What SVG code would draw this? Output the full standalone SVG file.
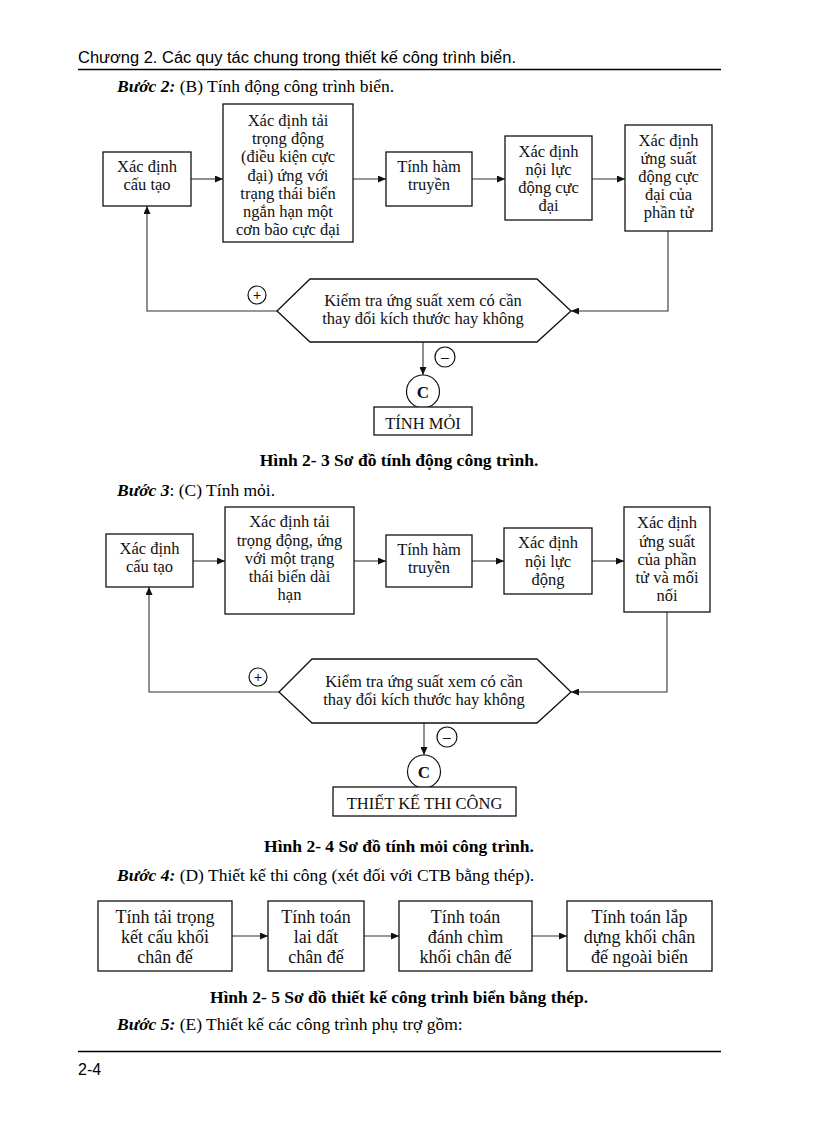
<svg xmlns="http://www.w3.org/2000/svg" width="816" height="1123" viewBox="0 0 816 1123">
<style>
.bg{fill:#ffffff}
.box{fill:#ffffff;stroke:#111;stroke-width:1.3}
.ln{fill:none;stroke:#333;stroke-width:1.1}
.c{fill:none;stroke:#111;stroke-width:1.2}
.t{font-family:"Liberation Serif","Times New Roman",serif;font-size:16.5px;fill:#111;text-anchor:middle}
.tb{font-family:"Liberation Serif","Times New Roman",serif;font-size:18px;fill:#111;text-anchor:middle}
.tc{font-family:"Liberation Serif","Times New Roman",serif;font-size:16.5px;fill:#111;text-anchor:middle}
.body{font-family:"Liberation Serif","Times New Roman",serif;font-size:17.5px;fill:#000}
.cap{font-family:"Liberation Serif","Times New Roman",serif;font-size:17.5px;font-weight:bold;fill:#000;text-anchor:middle}
.hdr{font-family:"Liberation Sans",Arial,sans-serif;font-size:16px;fill:#000}
.sym{font-family:"Liberation Sans",Arial,sans-serif;font-size:14px;fill:#111;text-anchor:middle}
.cc{font-family:"Liberation Serif","Times New Roman",serif;font-size:17px;font-weight:bold;fill:#111;text-anchor:middle}
</style>
<defs>
<marker id="arr" markerUnits="userSpaceOnUse" markerWidth="8" markerHeight="7" refX="8" refY="3.5" orient="auto">
<path d="M0,0 L8,3.5 L0,7 z" fill="#111"/>
</marker>
</defs>
<rect class="bg" x="0" y="0" width="816" height="1123"/>

<g id="page-text">
<text class="hdr" x="78" y="63" textLength="438" lengthAdjust="spacingAndGlyphs">Chương 2. Các quy tác chung trong thiết kế công trình biển.</text>
<line x1="78" y1="69.5" x2="721" y2="69.5" stroke="#000" stroke-width="1.5"/>
<text class="body" x="117" y="92"><tspan font-weight="bold" font-style="italic">Bước 2:</tspan> (B) Tính động công trình biển.</text>
<text class="cap" x="399" y="466">Hình 2- 3 Sơ đồ tính động công trình.</text>
<text class="body" x="117" y="496"><tspan font-weight="bold" font-style="italic">Bước 3</tspan>: (C) Tính mỏi.</text>
<text class="cap" x="399" y="852">Hình 2- 4 Sơ đồ tính mỏi công trình.</text>
<text class="body" x="117" y="881"><tspan font-weight="bold" font-style="italic">Bước 4:</tspan> (D) Thiết kế thi công (xét đối với CTB bằng thép).</text>
<text class="cap" x="399" y="1003">Hình 2- 5 Sơ đồ thiết kế công trình biển bằng thép.</text>
<text class="body" x="117" y="1030"><tspan font-weight="bold" font-style="italic">Bước 5:</tspan> (E) Thiết kế các công trình phụ trợ gồm:</text>
<line x1="78" y1="1051.5" x2="721" y2="1051.5" stroke="#000" stroke-width="1.5"/>
<text class="hdr" x="78" y="1075">2-4</text>
</g>

<g id="connectors">
<!-- diagram 1 -->
<line class="ln" x1="191" y1="179" x2="223" y2="179" marker-end="url(#arr)"/>
<line class="ln" x1="353" y1="179" x2="386" y2="179" marker-end="url(#arr)"/>
<line class="ln" x1="472" y1="179" x2="505" y2="179" marker-end="url(#arr)"/>
<line class="ln" x1="592" y1="179" x2="625" y2="179" marker-end="url(#arr)"/>
<polyline class="ln" points="668,231 668,311 571,311" marker-end="url(#arr)"/>
<polyline class="ln" points="277,311 147,311 147,206" marker-end="url(#arr)"/>
<line class="ln" x1="423" y1="342" x2="423" y2="375" marker-end="url(#arr)"/>
<!-- diagram 2 -->
<line class="ln" x1="193" y1="561" x2="225" y2="561" marker-end="url(#arr)"/>
<line class="ln" x1="354" y1="561" x2="386" y2="561" marker-end="url(#arr)"/>
<line class="ln" x1="472" y1="561" x2="504" y2="561" marker-end="url(#arr)"/>
<line class="ln" x1="592" y1="561" x2="624" y2="561" marker-end="url(#arr)"/>
<polyline class="ln" points="667,612 667,692 571,692" marker-end="url(#arr)"/>
<polyline class="ln" points="279,692 149,692 149,587" marker-end="url(#arr)"/>
<line class="ln" x1="424" y1="723" x2="424" y2="755" marker-end="url(#arr)"/>
<!-- diagram 3 -->
<line class="ln" x1="232" y1="936" x2="268" y2="936" marker-end="url(#arr)"/>
<line class="ln" x1="364" y1="936" x2="399" y2="936" marker-end="url(#arr)"/>
<line class="ln" x1="532" y1="936" x2="567" y2="936" marker-end="url(#arr)"/>
</g>

<!-- Diagram 1 -->
<g id="d1-cautao">
<rect class="box" x="103" y="152" width="88" height="54"/>
<text class="t" x="147" y="172">Xác định</text>
<text class="t" x="147" y="190">cấu tạo</text>
</g>
<g id="d1-taitrong">
<rect class="box" x="223" y="104" width="130" height="138"/>
<text class="t" x="288" y="126">Xác định tải</text>
<text class="t" x="288" y="144">trọng động</text>
<text class="t" x="288" y="162">(điều kiện cực</text>
<text class="t" x="288" y="181">đại) ứng với</text>
<text class="t" x="288" y="199">trạng thái biển</text>
<text class="t" x="288" y="217">ngắn hạn một</text>
<text class="t" x="288" y="235">cơn bão cực đại</text>
</g>
<g id="d1-hamtruyen">
<rect class="box" x="386" y="152" width="86" height="54"/>
<text class="t" x="429" y="172">Tính hàm</text>
<text class="t" x="429" y="190">truyền</text>
</g>
<g id="d1-noiluc">
<rect class="box" x="505" y="136" width="87" height="84"/>
<text class="t" x="548.5" y="157">Xác định</text>
<text class="t" x="548.5" y="175">nội lực</text>
<text class="t" x="548.5" y="193">động cực</text>
<text class="t" x="548.5" y="211">đại</text>
</g>
<g id="d1-ungsuat">
<rect class="box" x="625" y="125" width="87" height="106"/>
<text class="t" x="668.5" y="146">Xác định</text>
<text class="t" x="668.5" y="164">ứng suất</text>
<text class="t" x="668.5" y="182">động cực</text>
<text class="t" x="668.5" y="200">đại của</text>
<text class="t" x="668.5" y="218">phần tử</text>
</g>
<g id="d1-kiemtra">
<polygon class="box" points="277,311 310,279 537,279 571,311 537,342 310,342"/>
<text class="tc" x="423" y="306">Kiểm tra ứng suất xem có cần</text>
<text class="tc" x="423" y="324">thay đổi kích thước hay không</text>
</g>
<g id="d1-plus">
<circle class="c" cx="257" cy="295" r="9"/>
<text class="sym" x="257" y="300">+</text>
</g>
<g id="d1-minus">
<circle class="c" cx="445" cy="357" r="10"/>
<text class="sym" x="445" y="362">–</text>
</g>
<g id="d1-C">
<circle class="c" cx="423" cy="391.5" r="16.5"/>
<text class="cc" x="423" y="397.5">C</text>
</g>
<g id="d1-tinhmoi">
<rect class="box" x="374" y="407" width="98" height="28"/>
<text class="tc" x="423" y="429">TÍNH MỎI</text>
</g>

<!-- Diagram 2 -->
<g id="d2-cautao">
<rect class="box" x="106" y="534" width="87" height="53"/>
<text class="t" x="149.5" y="554">Xác định</text>
<text class="t" x="149.5" y="572">cấu tạo</text>
</g>
<g id="d2-taitrong">
<rect class="box" x="225" y="507" width="129" height="107"/>
<text class="t" x="289.5" y="527">Xác định tải</text>
<text class="t" x="289.5" y="546">trọng động, ứng</text>
<text class="t" x="289.5" y="564">với một trạng</text>
<text class="t" x="289.5" y="582">thái biển dài</text>
<text class="t" x="289.5" y="600">hạn</text>
</g>
<g id="d2-hamtruyen">
<rect class="box" x="386" y="535" width="86" height="52"/>
<text class="t" x="429" y="555">Tính hàm</text>
<text class="t" x="429" y="573">truyền</text>
</g>
<g id="d2-noiluc">
<rect class="box" x="504" y="528" width="88" height="66"/>
<text class="t" x="548" y="548">Xác định</text>
<text class="t" x="548" y="567">nội lực</text>
<text class="t" x="548" y="585">động</text>
</g>
<g id="d2-ungsuat">
<rect class="box" x="624" y="507" width="86" height="105"/>
<text class="t" x="667" y="528">Xác định</text>
<text class="t" x="667" y="547">ứng suất</text>
<text class="t" x="667" y="565">của phần</text>
<text class="t" x="667" y="583">tử và mối</text>
<text class="t" x="667" y="601">nối</text>
</g>
<g id="d2-kiemtra">
<polygon class="box" points="279,692 312,659 537,659 571,692 537,723 312,723"/>
<text class="tc" x="424" y="687">Kiểm tra ứng suất xem có cần</text>
<text class="tc" x="424" y="705">thay đổi kích thước hay không</text>
</g>
<g id="d2-plus">
<circle class="c" cx="258" cy="677" r="9"/>
<text class="sym" x="258" y="682">+</text>
</g>
<g id="d2-minus">
<circle class="c" cx="447" cy="737" r="10"/>
<text class="sym" x="447" y="742">–</text>
</g>
<g id="d2-C">
<circle class="c" cx="424" cy="771.5" r="16.5"/>
<text class="cc" x="424" y="777.5">C</text>
</g>
<g id="d2-thietke">
<rect class="box" x="333" y="787" width="183" height="29"/>
<text class="tc" x="424.5" y="809">THIẾT KẾ THI CÔNG</text>
</g>

<!-- Diagram 3 -->
<g id="d3-taitrong">
<rect class="box" x="98" y="901" width="134" height="70"/>
<text class="tb" x="165" y="923">Tính tải trọng</text>
<text class="tb" x="165" y="943">kết cấu khối</text>
<text class="tb" x="165" y="963">chân đế</text>
</g>
<g id="d3-laidat">
<rect class="box" x="268" y="901" width="96" height="70"/>
<text class="tb" x="316" y="923">Tính toán</text>
<text class="tb" x="316" y="943">lai dất</text>
<text class="tb" x="316" y="963">chân đế</text>
</g>
<g id="d3-danhchim">
<rect class="box" x="399" y="901" width="133" height="70"/>
<text class="tb" x="465.5" y="923">Tính toán</text>
<text class="tb" x="465.5" y="943">đánh chìm</text>
<text class="tb" x="465.5" y="963">khối chân đế</text>
</g>
<g id="d3-lapdung">
<rect class="box" x="567" y="901" width="145" height="70"/>
<text class="tb" x="639.5" y="923">Tính toán lắp</text>
<text class="tb" x="639.5" y="943">dựng khối chân</text>
<text class="tb" x="639.5" y="963">đế ngoài biển</text>
</g>
</svg>
